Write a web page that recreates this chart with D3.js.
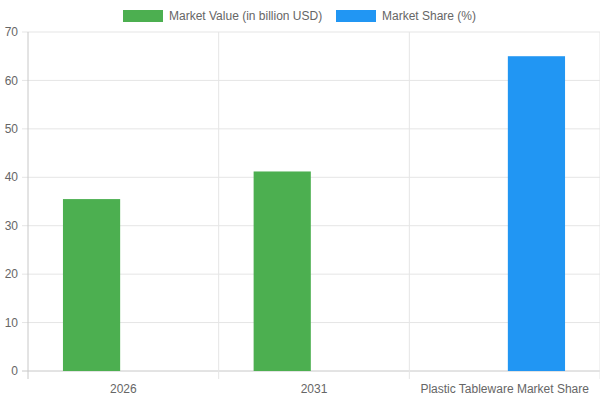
<!DOCTYPE html>
<html><head><meta charset="utf-8">
<script src="https://cdn.jsdelivr.net/npm/d3@7"></script>
<style>body{margin:0;background:#fff}svg{font-family:"Liberation Sans",Arial,sans-serif}</style>
</head><body><svg id="c" width="600" height="400"></svg>
<script>
const categories = ["2026", "2031", "Plastic Tableware Market Share"];
const seriesNames = ["Market Value (in billion USD)", "Market Share (%)"];
const marketValue = [35.5, 41.2, null];
const marketShare = [null, null, 65];
const yTicks = [0, 10, 20, 30, 40, 50, 60, 70];
const colors = ["#4caf50", "#2196f3"];

const svg = d3.select("#c");
const L = 28, R = 600, T = 32, B = 371;
const x = d3.scaleBand().domain(categories).range([L, R]).paddingInner(0).paddingOuter(0);
const y = d3.scaleLinear().domain([0, 70]).range([B, T]);
const x1 = d3.scaleBand().domain([0, 1]).range([0, x.bandwidth()]).paddingInner(0.1).paddingOuter(0.55);

// grid
svg.append("g").selectAll("line").data(yTicks).join("line")
  .attr("x1", L - 6).attr("x2", R).attr("y1", d => y(d)).attr("y2", d => y(d))
  .attr("stroke", d => d === 0 ? "#c8c8c8" : "#e5e5e5");
const vx = [L, ...categories.map(c => x(c) + x.bandwidth())];
svg.append("g").selectAll("line").data(vx).join("line")
  .attr("x1", d => d).attr("x2", d => d).attr("y1", T).attr("y2", B + 8)
  .attr("stroke", (d, i) => i === 0 ? "#c8c8c8" : "#e5e5e5");

// y labels
svg.append("g").selectAll("text").data(yTicks).join("text")
  .attr("x", L - 10).attr("y", d => y(d)).attr("dy", "0.35em").attr("text-anchor", "end")
  .attr("font-size", 12).attr("fill", "#666").text(d => d);
// x labels
svg.append("g").selectAll("text").data(categories).join("text")
  .attr("x", d => x(d) + x.bandwidth() / 2).attr("y", 393).attr("text-anchor", "middle")
  .attr("font-size", 12).attr("fill", "#666").text(d => d);

// bars
[marketValue, marketShare].forEach((vals, s) => {
  svg.append("g").selectAll("rect").data(categories.map((c, i) => ({c, v: vals[i]})).filter(d => d.v != null))
    .join("rect")
    .attr("x", d => x(d.c) + x1(s)).attr("width", x1.bandwidth())
    .attr("y", d => y(d.v)).attr("height", d => y(0) - y(d.v))
    .attr("fill", colors[s]);
});

// legend
const lg = [{x: 123, tx: 169}, {x: 336, tx: 382}];
seriesNames.forEach((n, i) => {
  svg.append("rect").attr("x", lg[i].x).attr("y", 10).attr("width", 40).attr("height", 12).attr("fill", colors[i]);
  svg.append("text").attr("x", lg[i].tx).attr("y", 16).attr("dy", "0.35em")
    .attr("font-size", 12).attr("fill", "#666").text(n);
});
</script></body></html>
